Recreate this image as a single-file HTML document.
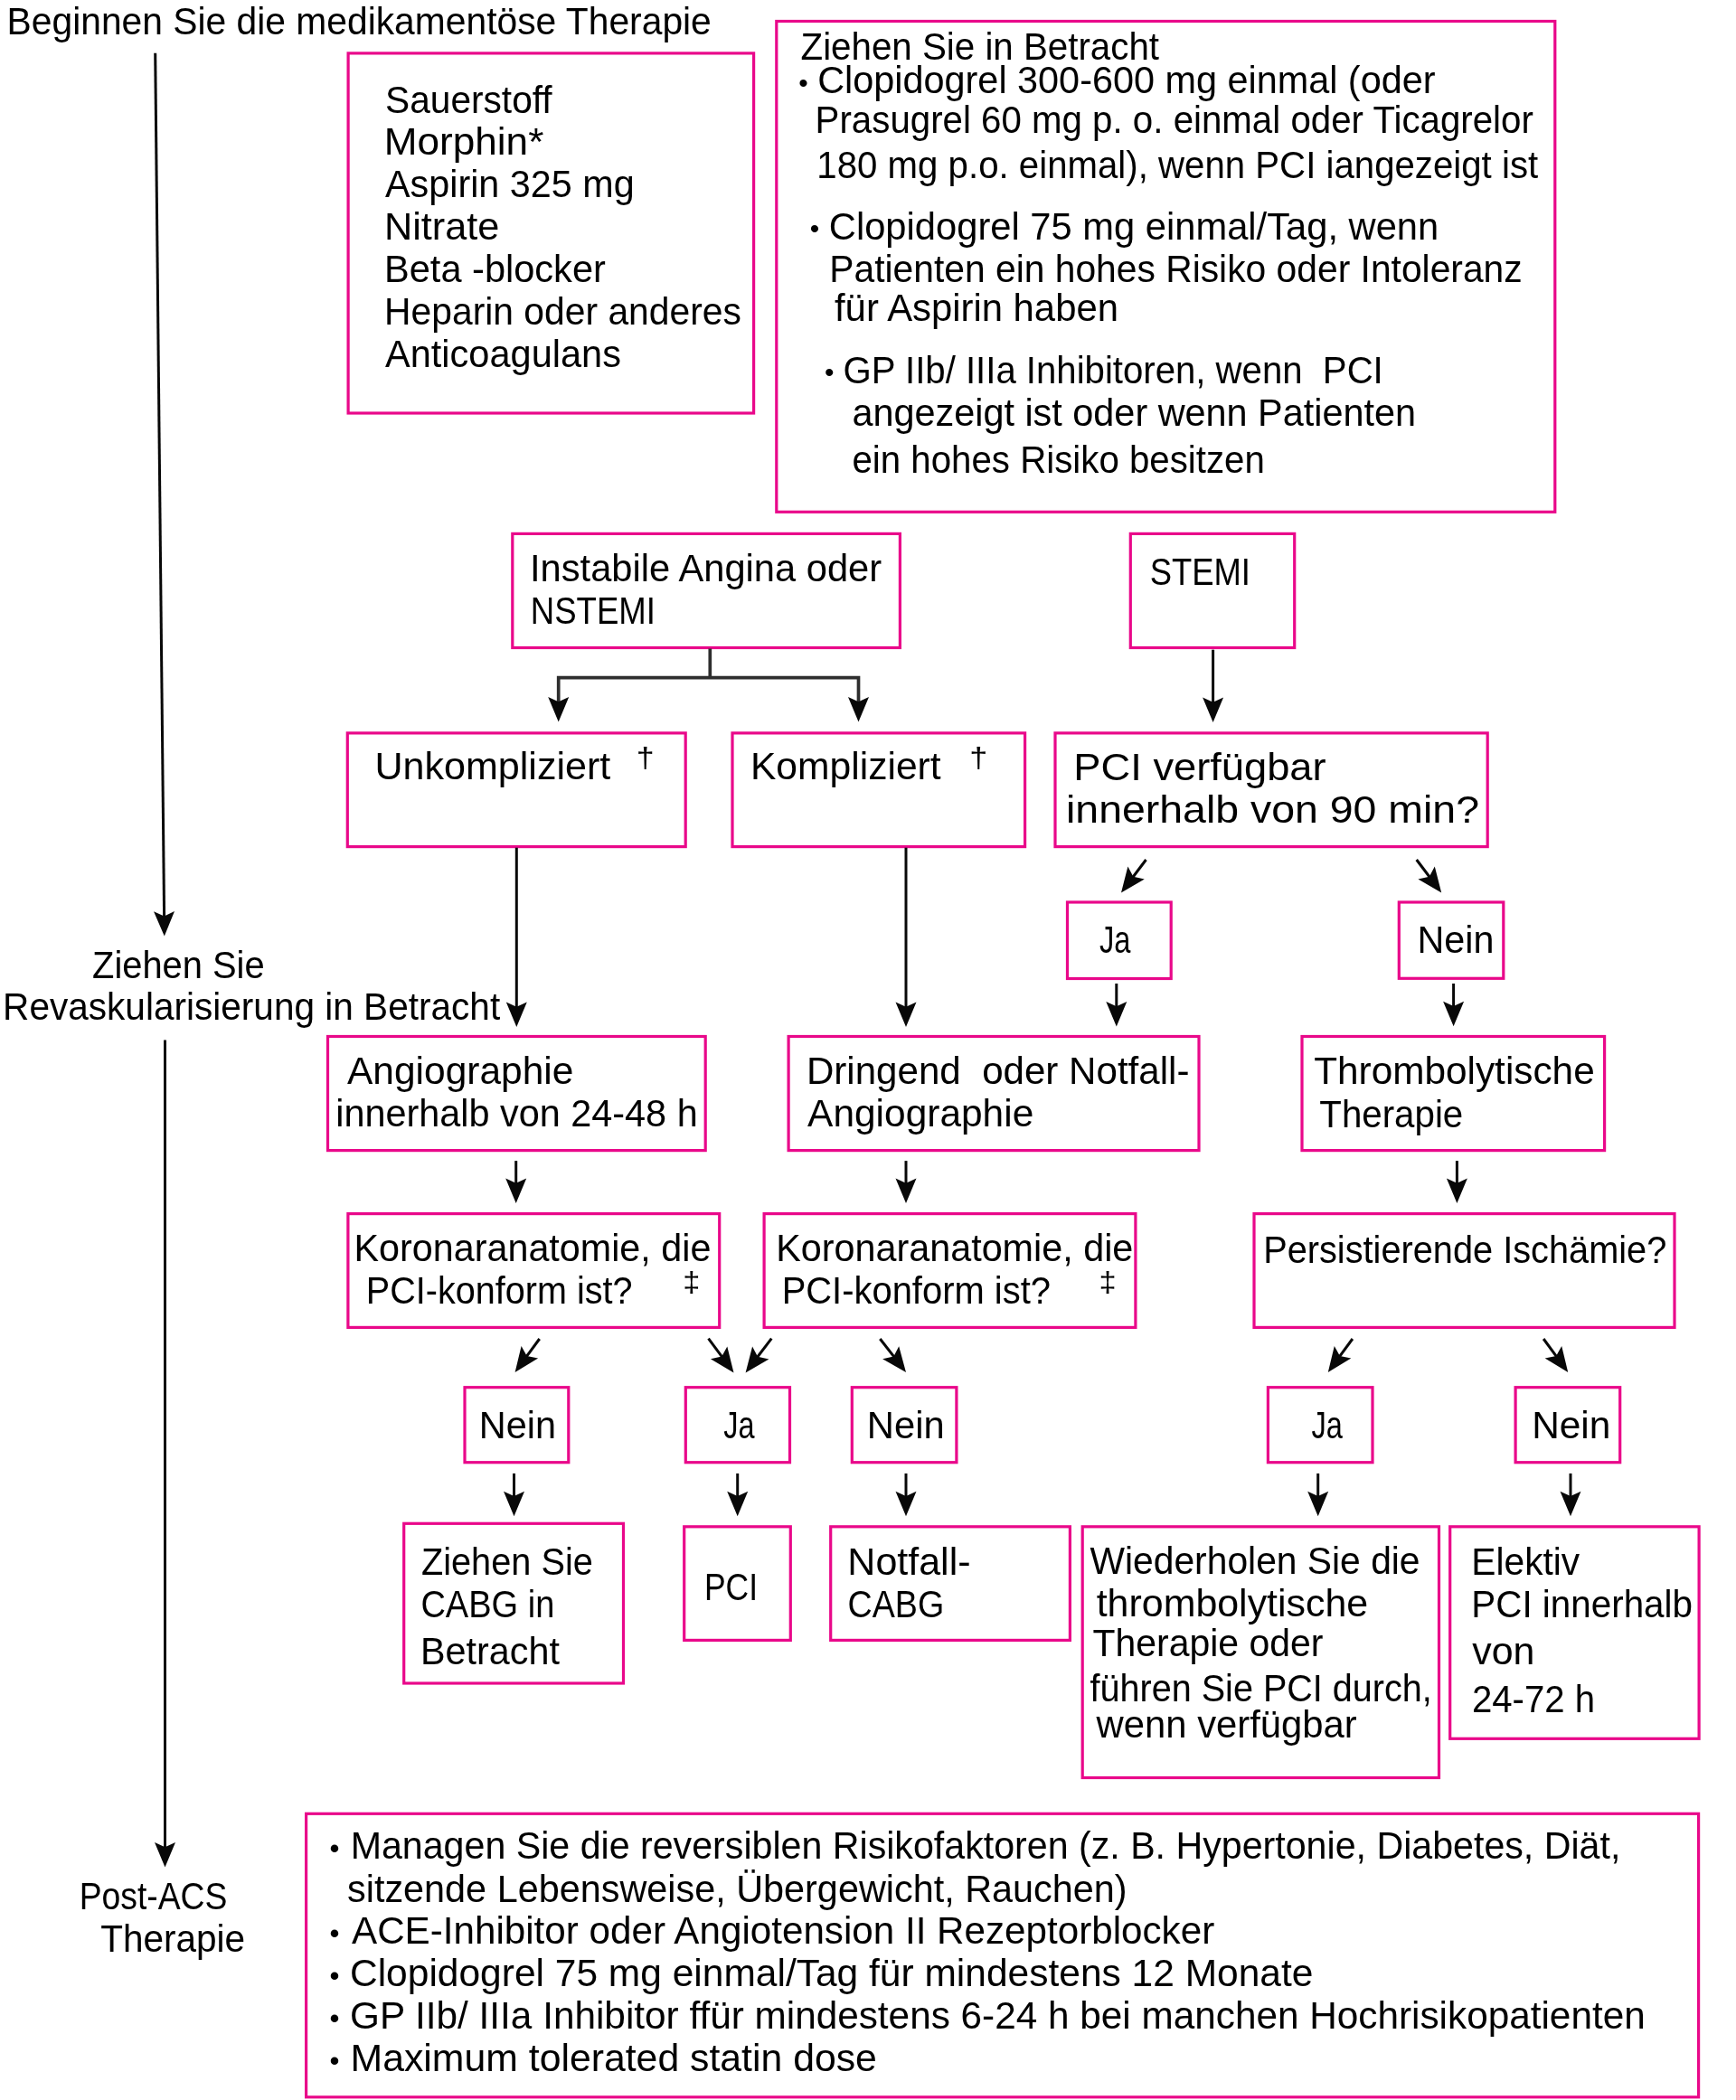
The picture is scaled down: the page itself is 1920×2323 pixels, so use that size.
<!DOCTYPE html>
<html lang="de"><head><meta charset="utf-8"><title>ACS Therapie</title>
<style>html,body{margin:0;padding:0;background:#fff}svg{display:block;will-change:transform}text{font-family:"Liberation Sans", sans-serif;fill:#000;white-space:pre}</style></head>
<body>
<svg width="1920" height="2323" viewBox="0 0 1920 2323">
<rect width="1920" height="2323" fill="#fff"/>
<g fill="none" stroke="#e9088a" stroke-width="3.2">
<rect x="385.1" y="58.9" width="448.5" height="398.1"/>
<rect x="858.8" y="23.5" width="861.0" height="542.8"/>
<rect x="566.8" y="590.4" width="428.6" height="126.1"/>
<rect x="1250.3" y="590.4" width="181.4" height="126.1"/>
<rect x="384.3" y="810.9" width="373.9" height="125.7"/>
<rect x="810.0" y="810.9" width="323.6" height="125.7"/>
<rect x="1167.0" y="810.9" width="478.2" height="125.7"/>
<rect x="1180.5" y="998.0" width="114.7" height="84.5"/>
<rect x="1547.3" y="998.0" width="115.5" height="84.3"/>
<rect x="362.5" y="1146.5" width="417.7" height="126.1"/>
<rect x="872.1" y="1146.5" width="453.9" height="126.1"/>
<rect x="1440.0" y="1146.5" width="334.6" height="126.1"/>
<rect x="384.9" y="1342.6" width="410.8" height="125.8"/>
<rect x="845.1" y="1342.6" width="410.8" height="125.8"/>
<rect x="1387.0" y="1342.6" width="465.0" height="125.8"/>
<rect x="514.0" y="1534.7" width="114.8" height="83.0"/>
<rect x="758.3" y="1534.7" width="115.2" height="83.0"/>
<rect x="942.3" y="1534.7" width="115.6" height="83.0"/>
<rect x="1402.4" y="1534.7" width="115.6" height="83.0"/>
<rect x="1676.1" y="1534.7" width="115.6" height="83.0"/>
<rect x="446.7" y="1685.3" width="242.8" height="176.7"/>
<rect x="756.7" y="1688.8" width="117.6" height="125.6"/>
<rect x="918.7" y="1688.8" width="264.7" height="125.6"/>
<rect x="1197.2" y="1688.8" width="394.3" height="277.7"/>
<rect x="1603.7" y="1688.8" width="275.4" height="234.5"/>
<rect x="338.6" y="2006.3" width="1540.0" height="313.5"/>
</g>
<g fill="none" stroke="#080808" stroke-width="3.0">
<line x1="171.7" y1="58.8" x2="181.6" y2="1014.4"/>
<line x1="182.5" y1="1150.4" x2="182.5" y2="2044.2"/>
<line x1="571.3" y1="937.7" x2="571.3" y2="1114.8"/>
<line x1="1002.0" y1="937.7" x2="1002.0" y2="1114.8"/>
<line x1="1341.6" y1="718.7" x2="1341.6" y2="777.7"/>
<line x1="1267.5" y1="951.0" x2="1252.8" y2="970.5"/>
<line x1="1566.7" y1="951.0" x2="1581.4" y2="970.5"/>
<line x1="1234.8" y1="1088.0" x2="1234.8" y2="1114.3"/>
<line x1="1607.6" y1="1088.0" x2="1607.6" y2="1114.0"/>
<line x1="570.7" y1="1284.1" x2="570.7" y2="1309.8"/>
<line x1="1002.0" y1="1284.1" x2="1002.0" y2="1309.8"/>
<line x1="1611.4" y1="1284.1" x2="1611.4" y2="1309.8"/>
<line x1="596.7" y1="1481.0" x2="582.1" y2="1500.9"/>
<line x1="783.5" y1="1480.7" x2="798.9" y2="1501.4"/>
<line x1="853.3" y1="1480.7" x2="837.4" y2="1501.5"/>
<line x1="973.3" y1="1481.0" x2="989.0" y2="1501.2"/>
<line x1="1495.9" y1="1481.0" x2="1481.3" y2="1500.9"/>
<line x1="1707.1" y1="1481.0" x2="1721.7" y2="1500.9"/>
<line x1="568.5" y1="1629.9" x2="568.5" y2="1656.0"/>
<line x1="815.7" y1="1629.9" x2="815.7" y2="1656.0"/>
<line x1="1002.0" y1="1629.9" x2="1002.0" y2="1656.0"/>
<line x1="1457.7" y1="1629.9" x2="1457.7" y2="1656.0"/>
<line x1="1737.0" y1="1629.9" x2="1737.0" y2="1656.0"/>
<polyline stroke-width="3.7" stroke="#2e2e2e" points="785.3,717.5 785.3,749.7"/>
<polyline stroke-width="3.7" stroke="#2e2e2e" points="617.7,790.0 617.7,749.7 949.5,749.7 949.5,790.0"/>
</g>
<g fill="#080808">
<polygon points="181.8,1035.6 170.0,1008.2 181.6,1013.4 193.0,1008.0"/>
<polygon points="182.5,2065.4 171.0,2037.9 182.5,2043.2 194.0,2037.9"/>
<polygon points="571.3,1136.0 559.8,1108.5 571.3,1113.8 582.8,1108.5"/>
<polygon points="1002.0,1136.0 990.5,1108.5 1002.0,1113.8 1013.5,1108.5"/>
<polygon points="1341.6,798.9 1330.1,771.4 1341.6,776.7 1353.1,771.4"/>
<polygon points="1240.0,987.4 1247.4,958.5 1253.4,969.7 1265.8,972.4"/>
<polygon points="1594.2,987.4 1568.4,972.4 1580.8,969.7 1586.8,958.5"/>
<polygon points="1234.8,1135.5 1223.3,1108.0 1234.8,1113.3 1246.3,1108.0"/>
<polygon points="1607.6,1135.2 1596.1,1107.7 1607.6,1113.0 1619.1,1107.7"/>
<polygon points="570.7,1331.0 559.2,1303.5 570.7,1308.8 582.2,1303.5"/>
<polygon points="1002.0,1331.0 990.5,1303.5 1002.0,1308.8 1013.5,1303.5"/>
<polygon points="1611.4,1331.0 1599.9,1303.5 1611.4,1308.8 1622.9,1303.5"/>
<polygon points="569.6,1518.0 576.6,1489.0 582.7,1500.1 595.1,1502.6"/>
<polygon points="811.5,1518.4 785.9,1503.2 798.3,1500.6 804.3,1489.5"/>
<polygon points="824.6,1518.4 832.1,1489.6 838.0,1500.7 850.4,1503.5"/>
<polygon points="1002.0,1518.0 976.1,1503.3 988.4,1500.5 994.2,1489.2"/>
<polygon points="1468.8,1518.0 1475.8,1489.0 1481.9,1500.1 1494.3,1502.6"/>
<polygon points="1734.2,1518.0 1708.7,1502.6 1721.1,1500.1 1727.2,1489.0"/>
<polygon points="568.5,1677.2 557.0,1649.7 568.5,1655.0 580.0,1649.7"/>
<polygon points="815.7,1677.2 804.2,1649.7 815.7,1655.0 827.2,1649.7"/>
<polygon points="1002.0,1677.2 990.5,1649.7 1002.0,1655.0 1013.5,1649.7"/>
<polygon points="1457.7,1677.2 1446.2,1649.7 1457.7,1655.0 1469.2,1649.7"/>
<polygon points="1737.0,1677.2 1725.5,1649.7 1737.0,1655.0 1748.5,1649.7"/>
<polygon points="617.7,798.5 606.2,771.0 617.7,776.3 629.2,771.0"/>
<polygon points="949.5,798.5 938.0,771.0 949.5,776.3 961.0,771.0"/>
</g>
<g font-size="42">
<text xml:space="preserve" transform="matrix(0.9714 0 0 1 7.59 38.40)">Beginnen Sie die medikamentöse Therapie</text>
<text xml:space="preserve" transform="matrix(0.9684 0 0 1 426.03 124.60)">Sauerstoff</text>
<text xml:space="preserve" transform="matrix(1.0502 0 0 1 424.85 170.60)">Morphin*</text>
<text xml:space="preserve" transform="matrix(0.9846 0 0 1 426.00 217.60)">Aspirin 325 mg</text>
<text xml:space="preserve" transform="matrix(1.0306 0 0 1 424.91 264.60)">Nitrate</text>
<text xml:space="preserve" transform="matrix(0.9899 0 0 1 425.03 311.60)">Beta -blocker</text>
<text xml:space="preserve" transform="matrix(0.9720 0 0 1 425.08 358.60)">Heparin oder anderes</text>
<text xml:space="preserve" transform="matrix(0.9891 0 0 1 426.00 405.60)">Anticoagulans</text>
<text xml:space="preserve" transform="matrix(0.9596 0 0 1 885.54 65.60)">Ziehen Sie in Betracht</text>
<text xml:space="preserve" transform="matrix(0.9857 0 0 1 904.23 102.60)">Clopidogrel 300-600 mg einmal (oder</text>
<text xml:space="preserve" transform="matrix(0.9588 0 0 1 901.62 147.10)">Prasugrel 60 mg p. o. einmal oder Ticagrelor</text>
<text xml:space="preserve" transform="matrix(0.9574 0 0 1 903.33 196.60)">180 mg p.o. einmal), wenn PCI iangezeigt ist</text>
<text xml:space="preserve" transform="matrix(0.9929 0 0 1 916.81 264.60)">Clopidogrel 75 mg einmal/Tag, wenn</text>
<text xml:space="preserve" transform="matrix(0.9715 0 0 1 917.29 311.60)">Patienten ein hohes Risiko oder Intoleranz</text>
<text xml:space="preserve" transform="matrix(0.9963 0 0 1 923.00 354.60)">für Aspirin haben</text>
<text xml:space="preserve" transform="matrix(0.9557 0 0 1 932.59 423.60)">GP IIb/ IIIa Inhibitoren, wenn  PCI</text>
<text xml:space="preserve" transform="matrix(0.9860 0 0 1 942.41 470.60)">angezeigt ist oder wenn Patienten</text>
<text xml:space="preserve" transform="matrix(0.9587 0 0 1 942.44 523.20)">ein hohes Risiko besitzen</text>
<text xml:space="preserve" transform="matrix(0.9494 0 0 1 102.05 1081.60)">Ziehen Sie</text>
<text xml:space="preserve" transform="matrix(0.9659 0 0 1 3.10 1127.60)">Revaskularisierung in Betracht</text>
<text xml:space="preserve" transform="matrix(0.8882 0 0 1 87.64 2111.90)">Post-ACS</text>
<text xml:space="preserve" transform="matrix(0.9653 0 0 1 111.20 2158.90)">Therapie</text>
<text xml:space="preserve" transform="matrix(0.9920 0 0 1 586.02 643.40)">Instabile Angina oder</text>
<text xml:space="preserve" transform="matrix(0.8711 0 0 1 586.79 690.10)">NSTEMI</text>
<text xml:space="preserve" transform="matrix(0.8668 0 0 1 1271.73 647.40)">STEMI</text>
<text xml:space="preserve" transform="matrix(1.0257 0 0 1 414.42 862.00)">Unkompliziert</text>
<text xml:space="preserve" transform="matrix(1.0144 0 0 1 829.96 862.00)">Kompliziert</text>
<text xml:space="preserve" transform="matrix(1.0776 0 0 1 1187.37 863.10)">PCI verfügbar</text>
<text xml:space="preserve" transform="matrix(1.1063 0 0 1 1178.99 910.10)">innerhalb von 90 min?</text>
<text xml:space="preserve" transform="matrix(0.7778 0 0 1 1216.00 1054.20)">Ja</text>
<text xml:space="preserve" transform="matrix(0.9837 0 0 1 1567.55 1053.60)">Nein</text>
<text xml:space="preserve" transform="matrix(1.0115 0 0 1 384.00 1199.00)">Angiographie</text>
<text xml:space="preserve" transform="matrix(0.9860 0 0 1 371.23 1246.00)">innerhalb von 24-48 h</text>
<text xml:space="preserve" transform="matrix(1.0025 0 0 1 891.89 1199.00)">Dringend  oder Notfall-</text>
<text xml:space="preserve" transform="matrix(1.0107 0 0 1 893.10 1246.00)">Angiographie</text>
<text xml:space="preserve" transform="matrix(1.0080 0 0 1 1453.20 1199.10)">Thrombolytische</text>
<text xml:space="preserve" transform="matrix(0.9592 0 0 1 1459.30 1246.60)">Therapie</text>
<text xml:space="preserve" transform="matrix(0.9836 0 0 1 391.55 1394.60)">Koronaranatomie, die</text>
<text xml:space="preserve" transform="matrix(0.9423 0 0 1 404.87 1442.00)">PCI-konform ist?</text>
<text xml:space="preserve" transform="matrix(0.9838 0 0 1 858.25 1394.60)">Koronaranatomie, die</text>
<text xml:space="preserve" transform="matrix(0.9508 0 0 1 864.65 1442.00)">PCI-konform ist?</text>
<text xml:space="preserve" transform="matrix(0.9465 0 0 1 1397.16 1396.80)">Persistierende Ischämie?</text>
<text xml:space="preserve" transform="matrix(0.9874 0 0 1 529.74 1590.60)">Nein</text>
<text xml:space="preserve" transform="matrix(0.7733 0 0 1 800.20 1590.60)">Ja</text>
<text xml:space="preserve" transform="matrix(0.9948 0 0 1 958.82 1590.60)">Nein</text>
<text xml:space="preserve" transform="matrix(0.7756 0 0 1 1450.50 1590.60)">Ja</text>
<text xml:space="preserve" transform="matrix(1.0096 0 0 1 1694.17 1590.60)">Nein</text>
<text xml:space="preserve" transform="matrix(0.9459 0 0 1 465.95 1742.10)">Ziehen Sie</text>
<text xml:space="preserve" transform="matrix(0.9055 0 0 1 465.39 1789.10)">CABG in</text>
<text xml:space="preserve" transform="matrix(0.9841 0 0 1 465.05 1841.00)">Betracht</text>
<text xml:space="preserve" transform="matrix(0.8446 0 0 1 778.97 1770.20)">PCI</text>
<text xml:space="preserve" transform="matrix(1.0237 0 0 1 937.33 1741.80)">Notfall-</text>
<text xml:space="preserve" transform="matrix(0.8963 0 0 1 937.51 1788.80)">CABG</text>
<text xml:space="preserve" transform="matrix(0.9716 0 0 1 1205.50 1741.40)">Wiederholen Sie die</text>
<text xml:space="preserve" transform="matrix(1.0220 0 0 1 1212.70 1788.40)">thrombolytische</text>
<text xml:space="preserve" transform="matrix(0.9755 0 0 1 1208.50 1831.60)">Therapie oder</text>
<text xml:space="preserve" transform="matrix(0.9425 0 0 1 1205.50 1882.40)">führen Sie PCI durch,</text>
<text xml:space="preserve" transform="matrix(0.9954 0 0 1 1212.60 1922.30)">wenn verfügbar</text>
<text xml:space="preserve" transform="matrix(0.9693 0 0 1 1627.29 1741.90)">Elektiv</text>
<text xml:space="preserve" transform="matrix(0.9619 0 0 1 1627.31 1788.80)">PCI innerhalb</text>
<text xml:space="preserve" transform="matrix(1.0221 0 0 1 1628.20 1841.00)">von</text>
<text xml:space="preserve" transform="matrix(0.9566 0 0 1 1627.89 1893.50)">24-72 h</text>
<text xml:space="preserve" transform="matrix(0.9802 0 0 1 387.66 2055.60)">Managen Sie die reversiblen Risikofaktoren (z. B. Hypertonie, Diabetes, Diät,</text>
<text xml:space="preserve" transform="matrix(0.9854 0 0 1 384.01 2103.60)">sitzende Lebensweise, Übergewicht, Rauchen)</text>
<text xml:space="preserve" transform="matrix(1.0047 0 0 1 389.00 2149.60)">ACE-Inhibitor oder Angiotension II Rezeptorblocker</text>
<text xml:space="preserve" transform="matrix(1.0119 0 0 1 386.98 2196.90)">Clopidogrel 75 mg einmal/Tag für mindestens 12 Monate</text>
<text xml:space="preserve" transform="matrix(1.0076 0 0 1 386.98 2243.60)">GP IIb/ IIIa Inhibitor ffür mindestens 6-24 h bei manchen Hochrisikopatienten</text>
<text xml:space="preserve" transform="matrix(1.0187 0 0 1 387.54 2290.60)">Maximum tolerated statin dose</text>
</g>
<text font-size="30" transform="matrix(1.0000 0 0 1.0000 883.20 102.00)">•</text>
<text font-size="30" transform="matrix(1.0000 0 0 1.0000 895.70 263.00)">•</text>
<text font-size="30" transform="matrix(1.0000 0 0 1.0000 911.90 422.10)">•</text>
<text font-size="30" transform="matrix(1.0444 0 0 1.0444 364.56 2054.77)">•</text>
<text font-size="30" transform="matrix(1.0444 0 0 1.0444 364.56 2148.77)">•</text>
<text font-size="30" transform="matrix(1.0444 0 0 1.0444 364.56 2195.77)">•</text>
<text font-size="30" transform="matrix(1.0444 0 0 1.0444 364.56 2242.77)">•</text>
<text font-size="30" transform="matrix(1.0444 0 0 1.0444 364.56 2289.77)">•</text>
<text font-size="30" transform="matrix(1.1923 0 0 1.0583 703.82 849.08)">†</text>
<text font-size="30" transform="matrix(1.2000 0 0 1.0583 1072.20 849.08)">†</text>
<text font-size="30" transform="matrix(1.1462 0 0 1.0333 755.31 1429.23)">‡</text>
<text font-size="30" transform="matrix(1.1462 0 0 1.0333 1215.41 1429.23)">‡</text>
</svg>
</body></html>
